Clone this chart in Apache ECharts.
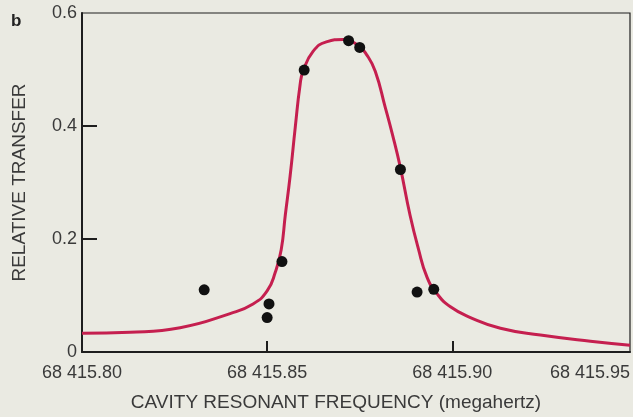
<!DOCTYPE html>
<html>
<head>
<meta charset="utf-8">
<script src="https://cdn.jsdelivr.net/npm/echarts@6/dist/echarts.min.js"></script>
<style>
  html, body { margin: 0; padding: 0; background: #eaeae2; }
  #chart { width: 633px; height: 417px; }
</style>
</head>
<body>
<div id="chart"></div>
<script>
// fitted resonance curve (frequency in MHz, relative transfer)
const curveFreq = [68415.800, 68415.813, 68415.8265, 68415.840, 68415.8462, 68415.850,
  68415.8522, 68415.8538, 68415.8549, 68415.8562, 68415.8576, 68415.8589, 68415.8597,
  68415.8624, 68415.8660, 68415.8705, 68415.8745, 68415.8770, 68415.8792, 68415.8819,
  68415.8838, 68415.8859, 68415.8886, 68415.8908, 68415.8932, 68415.8959, 68415.8995,
  68415.9049, 68415.9130, 68415.9238, 68415.9373, 68415.948]
const curveValue = [0.033, 0.035, 0.043, 0.068, 0.085, 0.108,
  0.141, 0.181, 0.242, 0.311, 0.398, 0.473, 0.497,
  0.532, 0.549, 0.553, 0.543, 0.525, 0.497, 0.433,
  0.386, 0.329, 0.242, 0.184, 0.132, 0.103, 0.080,
  0.061, 0.042, 0.030, 0.019, 0.012]

// measured points
const pointFreq = [68415.833, 68415.850, 68415.8505, 68415.854, 68415.860, 68415.872, 68415.875,
  68415.886, 68415.8905, 68415.895]
const pointValue = [0.110, 0.061, 0.085, 0.160, 0.499, 0.551, 0.539, 0.323, 0.106, 0.111]

// axes
const xMin = 68415.80
const xMax = 68415.948
const xLabelValues = [68415.80, 68415.85, 68415.90, 68415.948]
const xTickLabels = ['68 415.80', '68 415.85', '68 415.90', '68 415.95']
const xTickValues = [68415.85, 68415.90]
const yTickLabels = ['0', '0.2', '0.4', '0.6']

const chart = echarts.init(document.getElementById('chart'))

const font = 'Liberation Sans'
const textColor = '#3a3a3a'
const axisColor = '#1e1e1e'

const option = {
  backgroundColor: '#eaeae2',
  animation: false,
  textStyle: { fontFamily: font },
  graphic: [{
    type: 'text',
    left: 11,
    top: 13,
    style: { text: 'b', font: 'bold 17px ' + font, fill: '#222' }
  }],
  grid: {
    left: 82, top: 13, right: 3, bottom: 58,
    show: true,
    borderColor: axisColor,
    borderWidth: 1.2
  },
  xAxis: {
    type: 'value',
    min: xMin,
    max: xMax,
    name: 'CAVITY RESONANT FREQUENCY (megahertz)',
    nameLocation: 'middle',
    nameGap: 41,
    nameTextStyle: { fontSize: 19, color: textColor, fontFamily: font, padding: [0, 0, 0, -40] },
    axisLine: { lineStyle: { color: axisColor, width: 2 } },
    axisTick: { show: true, inside: true, length: 11, customValues: xTickValues, lineStyle: { color: axisColor, width: 2 } },
    axisLabel: {
      customValues: xLabelValues,
      alignMaxLabel: 'right',
      fontSize: 18,
      color: textColor,
      margin: 12,
      formatter: function (v) {
        let best = 0
        for (let i = 1; i < xLabelValues.length; i++) {
          if (Math.abs(xLabelValues[i] - v) < Math.abs(xLabelValues[best] - v)) best = i
        }
        return xTickLabels[best]
      }
    },
    splitLine: { show: false }
  },
  yAxis: {
    type: 'value',
    min: 0,
    max: 0.6,
    interval: 0.2,
    name: 'RELATIVE TRANSFER',
    nameLocation: 'middle',
    nameGap: 53,
    nameTextStyle: { fontSize: 19, color: textColor, fontFamily: font },
    axisLine: { show: true, lineStyle: { color: axisColor, width: 2 } },
    axisTick: { show: true, inside: true, length: 15, customValues: [0.2, 0.4], lineStyle: { color: axisColor, width: 2 } },
    axisLabel: {
      fontSize: 18,
      color: textColor,
      margin: 5,
      formatter: function (v) { return yTickLabels[Math.round(v / 0.2)] }
    },
    splitLine: { show: false }
  },
  series: [{
    type: 'line',
    data: curveFreq.map((f, i) => [f, curveValue[i]]),
    smooth: 0.5,
    showSymbol: false,
    lineStyle: { color: '#c51f4f', width: 3 },
    z: 2
  }, {
    type: 'scatter',
    data: pointFreq.map((f, i) => [f, pointValue[i]]),
    symbolSize: 11,
    itemStyle: { color: '#111', opacity: 1 },
    z: 3
  }]
}

chart.setOption(option)
</script>
</body>
</html>
